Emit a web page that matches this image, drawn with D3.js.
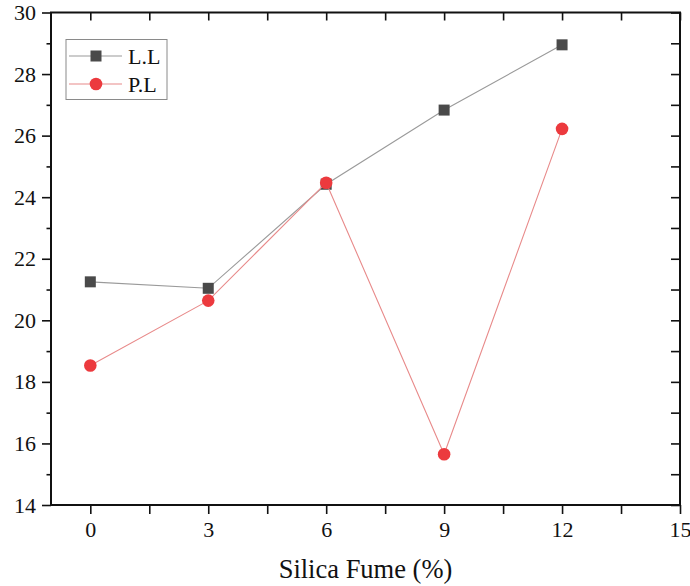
<!DOCTYPE html>
<html>
<head>
<meta charset="utf-8">
<script src="https://cdn.jsdelivr.net/npm/d3@7"></script>
<style>
  html, body { margin: 0; padding: 0; background: #fff; }
  svg { display: block; }
  svg text { font-family: "Liberation Serif", "Times New Roman", Times, serif !important; fill: #111; }
</style>
</head>
<body>
<svg id="chart" width="690" height="586"></svg>
<script>
// Silica fume content (%)
const silicaFume = [0, 3, 6, 9, 12];
// Liquid limit
const liquidLimit = [21.25, 21.04, 24.42, 26.83, 28.95];
// Plastic limit
const plasticLimit = [18.53, 20.64, 24.47, 15.65, 26.22];

const xTicks = [0, 3, 6, 9, 12, 15];
const xMinorTicks = [1.5, 4.5, 7.5, 10.5, 13.5];
const yTicks = [14, 16, 18, 20, 22, 24, 26, 28, 30];
const yMinorTicks = [15, 17, 19, 21, 23, 25, 27, 29];

const seriesNames = ["L.L", "P.L"];

const serif = '"Liberation Serif", "Times New Roman", Times, serif';
const plotLeft = 51, plotRight = 680, plotTop = 12.5, plotBottom = 505;

const svg = d3.select("#chart");

const x = d3.scaleLinear().domain([-1, 15]).range([plotLeft, plotRight]);
const y = d3.scaleLinear().domain([14, 30]).range([plotBottom, plotTop]);

const frameColor = "#111";

// Bottom axis: labelled ticks plus unlabelled half-steps, all pointing out
svg.append("g").attr("transform", `translate(0,${plotBottom})`)
  .call(d3.axisBottom(x).tickValues(xTicks).tickSize(9).tickPadding(7).tickFormat(d3.format("d")));
svg.append("g").attr("transform", `translate(0,${plotBottom})`)
  .call(d3.axisBottom(x).tickValues(xMinorTicks).tickSize(9).tickFormat(""));

// Left axis: major and minor ticks pointing out
svg.append("g").attr("transform", `translate(${plotLeft},0)`)
  .call(d3.axisLeft(y).tickValues(yTicks).tickSize(9).tickPadding(6).tickFormat(d3.format("d")));
svg.append("g").attr("transform", `translate(${plotLeft},0)`)
  .call(d3.axisLeft(y).tickValues(yMinorTicks).tickSize(4.5).tickFormat(""));

// Mirrored top and right axes with inward ticks
svg.append("g").attr("transform", `translate(0,${plotTop})`)
  .call(d3.axisBottom(x).tickValues(xTicks.concat(xMinorTicks)).tickSize(8).tickFormat(""));
svg.append("g").attr("transform", `translate(${plotRight},0)`)
  .call(d3.axisLeft(y).tickValues(yTicks.concat(yMinorTicks)).tickSize(9).tickFormat(""));

svg.selectAll("g").attr("font-family", serif);
svg.selectAll(".domain").remove();
svg.selectAll(".tick line").attr("stroke", frameColor).attr("stroke-width", 1.6);
svg.selectAll(".tick text").attr("font-size", 22).attr("fill", "#111");

// Plot frame
svg.append("rect")
  .attr("x", plotLeft).attr("y", plotTop)
  .attr("width", plotRight - plotLeft).attr("height", plotBottom - plotTop)
  .attr("fill", "none").attr("stroke", frameColor).attr("stroke-width", 2);

// Axis title
svg.append("text")
  .attr("x", (plotLeft + plotRight) / 2).attr("y", 578)
  .attr("text-anchor", "middle").attr("font-size", 26.5).attr("font-family", serif)
  .text("Silica Fume (%)");

const line = d3.line().x(d => x(d[0])).y(d => y(d[1]));

const llData = silicaFume.map((s, i) => [s, liquidLimit[i]]);
const plData = silicaFume.map((s, i) => [s, plasticLimit[i]]);

const llLine = "#9a9a9a", llMark = "#4a4a4a";
const plLine = "#e88a8a", plMark = "#ec3a3e";

// Liquid limit series
svg.append("path").datum(llData).attr("d", line)
  .attr("fill", "none").attr("stroke", llLine).attr("stroke-width", 1.1);
svg.selectAll(".ll").data(llData).enter().append("rect")
  .attr("class", "ll")
  .attr("x", d => x(d[0]) - 5.5).attr("y", d => y(d[1]) - 5.5)
  .attr("width", 11).attr("height", 11).attr("fill", llMark);

// Plastic limit series
svg.append("path").datum(plData).attr("d", line)
  .attr("fill", "none").attr("stroke", plLine).attr("stroke-width", 1.1);
svg.selectAll(".pl").data(plData).enter().append("circle")
  .attr("class", "pl")
  .attr("cx", d => x(d[0])).attr("cy", d => y(d[1]))
  .attr("r", 6.3).attr("fill", plMark);

// Legend
const lg = svg.append("g").attr("font-family", serif);
lg.append("rect").attr("x", 66).attr("y", 39.5).attr("width", 101).attr("height", 60)
  .attr("fill", "#fff").attr("stroke", "#8a8a8a").attr("stroke-width", 1);
const rows = [
  { name: seriesNames[0], yy: 56, lineC: llLine, markC: llMark, shape: "square" },
  { name: seriesNames[1], yy: 84, lineC: plLine, markC: plMark, shape: "circle" }
];
rows.forEach(r => {
  lg.append("line").attr("x1", 69).attr("x2", 122).attr("y1", r.yy).attr("y2", r.yy)
    .attr("stroke", r.lineC).attr("stroke-width", 1.1);
  if (r.shape === "square") {
    lg.append("rect").attr("x", 96 - 5.5).attr("y", r.yy - 5.5).attr("width", 11).attr("height", 11)
      .attr("fill", r.markC);
  } else {
    lg.append("circle").attr("cx", 96).attr("cy", r.yy).attr("r", 6.3).attr("fill", r.markC);
  }
  lg.append("text").attr("x", 128).attr("y", r.yy).attr("dy", "0.35em")
    .attr("font-size", 22).text(r.name);
});
</script>
</body>
</html>
